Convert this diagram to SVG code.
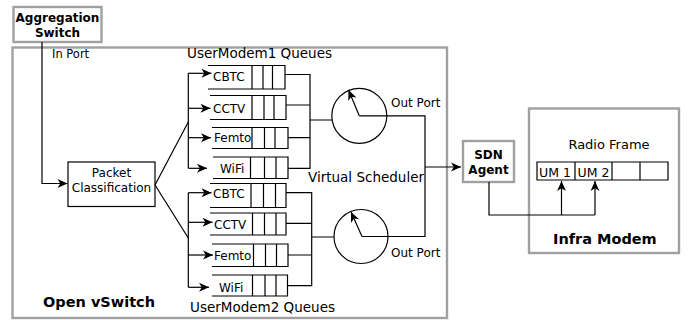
<svg xmlns="http://www.w3.org/2000/svg" width="688" height="320" viewBox="0 0 688 320">
<defs>
<marker id="ah" markerUnits="userSpaceOnUse" markerWidth="12" markerHeight="10" viewBox="-9 -4.5 10 9" refX="0" refY="0" orient="auto">
<path d="M0,0 L-9,-4 L-6.5,0 L-9,4 z" fill="#000"/>
</marker>
</defs>
<style>
text{font-family:"DejaVu Sans","Liberation Sans",sans-serif;fill:#000}
.b{font-weight:bold}
.g{fill:none;stroke:#a0a0a0;stroke-width:2.4}
.k{fill:none;stroke:#000;stroke-width:1.2}
.w{fill:#fff;stroke:#000;stroke-width:1.2}
.a{fill:none;stroke:#000;stroke-width:1.2;marker-end:url(#ah)}
.q{font-size:12px}
.c{text-anchor:middle}
</style>
<rect width="688" height="320" fill="#fff"/>

<g id="open-vswitch">
<rect class="g" x="12.5" y="47.5" width="434.5" height="270.5"/>
<text class="b" x="43" y="307" font-size="14.5">Open vSwitch</text>
<text x="52" y="58" font-size="11.5">In Port</text>
<text x="187" y="58" font-size="13.5">UserModem1 Queues</text>
<text x="190" y="312" font-size="13.5">UserModem2 Queues</text>
<text x="308" y="182" font-size="13.5">Virtual Scheduler</text>
</g>

<g id="aggregation-switch">
<rect class="g" x="13.5" y="7" width="88" height="35" fill="#fff"/>
<text class="b c" x="57.5" y="22" font-size="12">Aggregation</text>
<text class="b c" x="57.5" y="37" font-size="12">Switch</text>
</g>

<g id="packet-classification">
<rect class="w" x="68" y="162" width="87" height="44.5"/>
<text class="c" x="111.5" y="177" font-size="12">Packet</text>
<text class="c" x="111.5" y="192" font-size="12">Classification</text>
</g>

<g id="um1-cbtc">
<path class="k" d="M208,65.5 H285 V89 H208 M252,65.5 V89 M263,65.5 V89 M272.5,65.5 V89"/>
<text class="q" x="213" y="80.5">CBTC</text>
</g>
<g id="um1-cctv">
<path class="k" d="M210,95.5 H286 V119.5 H210 M252,95.5 V119.5 M264,95.5 V119.5 M274,95.5 V119.5"/>
<text class="q" x="213" y="112.5">CCTV</text>
</g>
<g id="um1-femto">
<path class="k" d="M212,127.5 H288 V148.5 H212 M252,127.5 V148.5 M264.5,127.5 V148.5 M275,127.5 V148.5"/>
<text class="q" x="214" y="141.5">Femto</text>
</g>
<g id="um1-wifi">
<path class="k" d="M213,157 H288 V178.5 H213 M250.5,157 V178.5 M264.5,157 V178.5 M276,157 V178.5"/>
<text class="q" x="220" y="172.5">WiFi</text>
</g>

<g id="um2-cbtc">
<path class="k" d="M210,183.5 H286 V207.5 H210 M251,183.5 V207.5 M263.5,183.5 V207.5 M275.5,183.5 V207.5"/>
<text class="q" x="213" y="197.5">CBTC</text>
</g>
<g id="um2-cctv">
<path class="k" d="M210,213 H286 V235 H210 M252.5,213 V235 M264.5,213 V235 M276,213 V235"/>
<text class="q" x="214" y="228.5">CCTV</text>
</g>
<g id="um2-femto">
<path class="k" d="M212,244 H288 V266.5 H212 M253.5,244 V266.5 M265.5,244 V266.5 M276.5,244 V266.5"/>
<text class="q" x="214" y="259.5">Femto</text>
</g>
<g id="um2-wifi">
<path class="k" d="M212,275 H287.5 V296 H212 M252.5,275 V296 M265,275 V296 M276,275 V296"/>
<text class="q" x="219" y="291.5">WiFi</text>
</g>

<g id="scheduler1">
<circle class="k" cx="359.3" cy="115.8" r="27.5"/>
<text x="391" y="107" font-size="12">Out Port</text>
</g>
<g id="scheduler2">
<circle class="k" cx="361" cy="236.5" r="27"/>
<text x="391" y="257" font-size="12">Out Port</text>
</g>

<g id="sdn-agent">
<rect class="g" x="463" y="141" width="51" height="41" fill="#fff"/>
<text class="b c" x="488.5" y="159" font-size="12">SDN</text>
<text class="b c" x="488.5" y="174" font-size="12">Agent</text>
</g>

<g id="infra-modem">
<rect class="g" x="529" y="108.5" width="150" height="144.5"/>
<text class="c" x="609" y="149" font-size="13">Radio Frame</text>
<path class="k" d="M537,162 H668 V180 H537 Z M575,162 V180 M612,162 V180 M640,162 V180"/>
<text x="539" y="177" font-size="12.5">UM 1</text>
<text x="577.5" y="177" font-size="12.5">UM 2</text>
<text class="b" x="553" y="244" font-size="14.5">Infra Modem</text>
</g>

<g id="connectors">
<path class="a" d="M42,42 V183.5 H67.5"/>
<path class="k" d="M155,185 L188.3,122 M155,185 L188.3,238"/>
<path class="k" d="M188.3,73.3 V168.3 M188.3,192.7 V287.3"/>
<path class="a" d="M188.3,73.3 H211.5"/>
<path class="a" d="M188.3,108.3 H210.5"/>
<path class="a" d="M188.3,137.7 H211"/>
<path class="a" d="M188.3,168.3 H207"/>
<path class="a" d="M188.3,192.7 H211.5"/>
<path class="a" d="M188.3,222.3 H212.5"/>
<path class="a" d="M188.3,255 H213"/>
<path class="a" d="M188.3,287.3 H209"/>
<path class="k" d="M285,74.5 H310 V168.3 H288 M286,105 H310 M288,137.7 H310 M310,120 H332"/>
<path class="k" d="M286,192.7 H311.7 V285.7 H287.5 M286,223.3 H311.7 M288,255 H311.7 M311.7,237 H334"/>
<path class="a" d="M359.3,115.8 L348.5,90"/>
<path class="a" d="M362,236.5 L351,212"/>
<path class="k" d="M359.3,115.8 H425 V236.5 H362"/>
<path class="a" d="M425,167 H461"/>
<path class="k" d="M489,182 V215 H595"/>
<path class="a" d="M561.5,215 V181"/>
<path class="a" d="M595,215 V181"/>
</g>
</svg>
